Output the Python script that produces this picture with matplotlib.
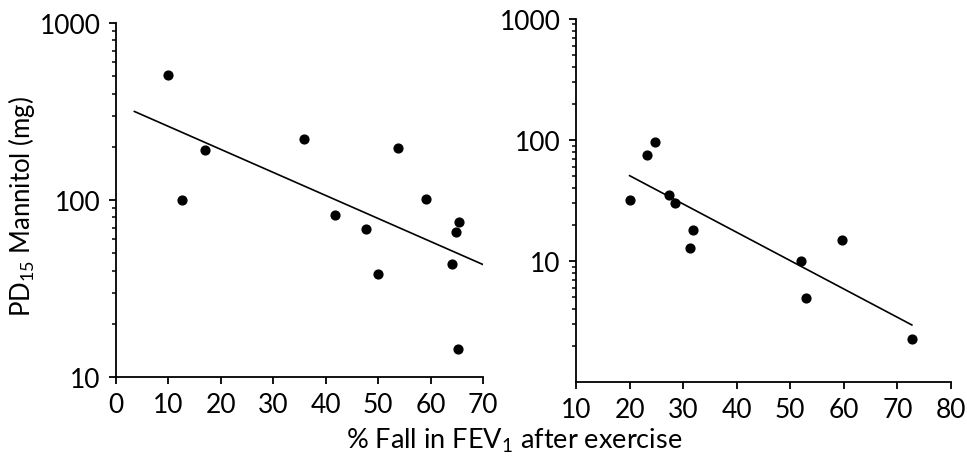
import matplotlib.pyplot as plt
from matplotlib.ticker import LogLocator, NullFormatter, FixedLocator, FixedFormatter

plt.rcParams['font.family'] = ['Lato', 'DejaVu Sans']
plt.rcParams['mathtext.default'] = 'regular'

# Left panel: % fall in FEV1 vs PD15 mannitol
left_x = [10.0, 12.6, 17.0, 35.8, 41.7, 47.6, 49.9, 53.7, 59.2, 64.0, 64.8, 65.4, 65.2]
left_y = [508, 100, 193, 221, 82.5, 68.7, 38.5, 198, 101.5, 43.3, 65.8, 75.6, 14.4]
left_fit_x = [3.5, 69.9]
left_fit_y = [317, 43.4]

# Right panel
right_x = [20.0, 23.3, 24.65, 27.4, 28.4, 31.9, 31.3, 52.0, 53.0, 59.7, 72.7]
right_y = [31.9, 74.7, 95.7, 34.9, 30.0, 17.9, 12.9, 10.0, 4.98, 14.9, 2.27]
right_fit_x = [20.0, 72.7]
right_fit_y = [50.7, 2.96]

fig = plt.figure(figsize=(9.67, 4.64), dpi=100)
ax1 = fig.add_axes([0.120, 0.185, 0.3795, 0.763])
ax2 = fig.add_axes([0.5957, 0.1746, 0.3877, 0.7824])


def style(ax, xlim, xticks, ylim, yticks):
    ax.set_yscale('log')
    ax.set_xlim(*xlim)
    ax.set_ylim(*ylim)
    ax.set_xticks(xticks)
    ax.yaxis.set_major_locator(FixedLocator(yticks))
    ax.yaxis.set_major_formatter(FixedFormatter([str(t) for t in yticks]))
    ax.yaxis.set_minor_locator(LogLocator(base=10, subs=range(2, 10)))
    ax.yaxis.set_minor_formatter(NullFormatter())
    for s in ['top', 'right']:
        ax.spines[s].set_visible(False)
    for s in ['left', 'bottom']:
        ax.spines[s].set_linewidth(1.3)
    ax.tick_params(which='major', direction='out', length=5, width=1.3,
                   labelsize=19, pad=6)
    ax.tick_params(which='minor', direction='out', length=3, width=1.1)
    ax.set_facecolor('none')


ax1.scatter(left_x, left_y, s=40, color='black', zorder=3)
ax1.plot(left_fit_x, left_fit_y, color='black', linewidth=1.2)
style(ax1, (0, 70), range(0, 71, 10), (10, 1000), [10, 100, 1000])

ax2.scatter(right_x, right_y, s=40, color='black', zorder=3)
ax2.plot(right_fit_x, right_fit_y, color='black', linewidth=1.2)
style(ax2, (10, 80), range(10, 81, 10), (1, 1000), [10, 100, 1000])

fig.text(0.022, 0.554, 'PD$_{15}$ Mannitol (mg)', rotation=90, ha='center',
         va='center', fontsize=18.5)
fig.text(0.532, 0.05, '% Fall in FEV$_1$ after exercise', ha='center',
         va='center', fontsize=19.5)

fig.savefig('out.png', dpi=100)
